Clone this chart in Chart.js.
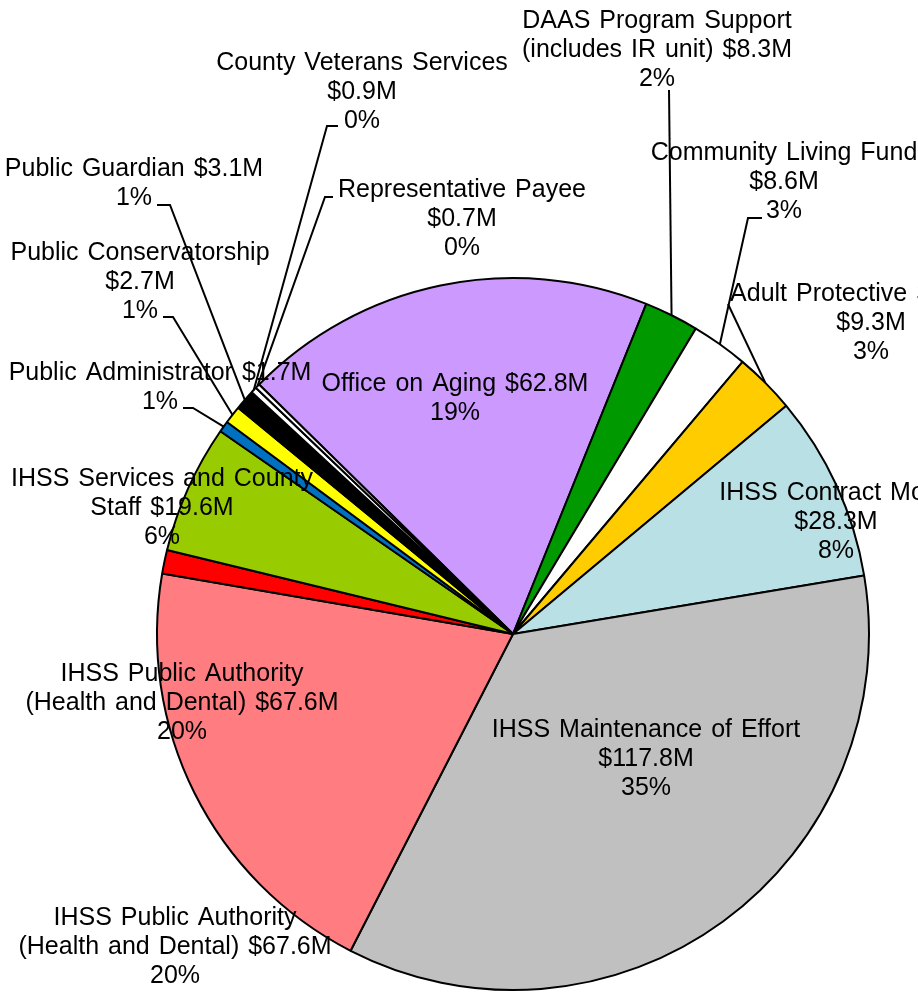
<!DOCTYPE html>
<html>
<head>
<meta charset="utf-8">
<script src="https://cdn.jsdelivr.net/npm/chart.js@4.4.0/dist/chart.umd.min.js"></script>
<style>
  html, body { margin: 0; padding: 0; background: #fff; }
  #wrap { width: 918px; height: 992px; overflow: hidden; }
</style>
</head>
<body>
<div id="wrap"><canvas id="chart" width="918" height="992"></canvas></div>
<script>
// budget by program, $M (clockwise from the Office on Aging slice)
const categories = [
  'Office on Aging',
  'DAAS Program Support (includes IR unit)',
  'Community Living Fund',
  'Adult Protective Services',
  'IHSS Contract Mode',
  'IHSS Maintenance of Effort',
  'IHSS Public Authority (Health and Dental)',
  'IHSS Public Authority (other)',
  'IHSS Services and County Staff',
  'Public Administrator',
  'Public Conservatorship',
  'Public Guardian',
  'County Veterans Services',
  'Representative Payee',
];
const budgetValues = [62.8, 8.3, 8.6, 9.3, 28.3, 117.8, 67.6, 3.6, 19.6, 1.7, 2.7, 3.1, 0.9, 0.7];
const sliceColors = [
  '#CC99FF', '#009900', '#FFFFFF', '#FFCC00', '#B9E0E4', '#C0C0C0', '#FF7C80',
  '#FF0000', '#99CC00', '#0070C0', '#FFFF00', '#000000', '#FFFFFF', '#FFFFFF',
];

// data label text, as printed on the chart
const labelSlice = [12, 13, 11, 10, 9, 8, 0, 1, 2, 3, 4, 5, 6, 7];
const labelText = [
  ['County Veterans Services', '$0.9M', '0%'],
  ['Representative Payee', '$0.7M', '0%'],
  ['Public Guardian $3.1M', '1%'],
  ['Public Conservatorship', '$2.7M', '1%'],
  ['Public Administrator $1.7M', '1%'],
  ['IHSS Services and County', 'Staff $19.6M', '6%'],
  ['Office on Aging $62.8M', '19%'],
  ['DAAS Program Support', '(includes IR unit) $8.3M', '2%'],
  ['Community Living Fund', '$8.6M', '3%'],
  ['Adult Protective Services', '$9.3M', '3%'],
  ['IHSS Contract Mode', '$28.3M', '8%'],
  ['IHSS Maintenance of Effort', '$117.8M', '35%'],
  ['IHSS Public Authority', '(Health and Dental) $67.6M', '20%'],
  ['IHSS Public Authority', '(Health and Dental) $67.6M', '20%'],
];

// label placement: centre x, cap-centre y of first line, leader start points
const labelLayout = [
  { x: 362, y: 61,  leader: [[338, 126], [327, 126]] },
  { x: 462, y: 188, leader: [[333, 197], [325, 197]] },
  { x: 134, y: 167, leader: [[157, 205], [170, 205]] },
  { x: 140, y: 251, leader: [[163, 317], [173, 317]] },
  { x: 160, y: 371, leader: [[183, 408], [193, 408]] },
  { x: 162, y: 477 },
  { x: 455, y: 382 },
  { x: 657, y: 19,  leader: [[669, 90]] },
  { x: 784, y: 151, leader: [[762, 218], [748, 218]] },
  { x: 871, y: 292, leader: [[728, 304]] },
  { x: 836, y: 491 },
  { x: 646, y: 728 },
  { x: 182, y: 672 },
  { x: 175, y: 916 },
];

const FONT_SIZE = 25;
const LINE_STEP = 28.8;

const sliceLabels = {
  id: 'sliceLabels',
  afterDatasetsDraw(chart) {
    const ctx = chart.ctx;
    const arcs = chart.getDatasetMeta(0).data;
    ctx.save();
    ctx.font = FONT_SIZE + 'px "Liberation Sans", Arial, sans-serif';
    ctx.fillStyle = '#000';
    ctx.textAlign = 'center';
    ctx.textBaseline = 'alphabetic';
    if ('wordSpacing' in ctx) ctx.wordSpacing = '2px';
    labelLayout.forEach((lab, i) => {
      labelText[i].forEach((line, k) => {
        ctx.fillText(line, lab.x, lab.y + k * LINE_STEP + FONT_SIZE * 0.358);
      });
    });

    ctx.strokeStyle = '#000';
    ctx.lineWidth = 2;
    labelLayout.forEach((lab, i) => {
      if (!lab.leader) return;
      const arc = arcs[labelSlice[i]];
      const mid = (arc.startAngle + arc.endAngle) / 2;
      const ex = arc.x + Math.cos(mid) * arc.outerRadius;
      const ey = arc.y + Math.sin(mid) * arc.outerRadius;
      ctx.beginPath();
      ctx.moveTo(lab.leader[0][0], lab.leader[0][1]);
      lab.leader.slice(1).forEach(p => ctx.lineTo(p[0], p[1]));
      ctx.lineTo(ex, ey);
      ctx.stroke();
    });
    ctx.restore();
  },
};

new Chart(document.getElementById('chart'), {
  type: 'pie',
  data: {
    labels: categories,
    datasets: [{
      data: budgetValues,
      backgroundColor: sliceColors,
      borderColor: '#000',
      borderWidth: 2,
    }],
  },
  options: {
    responsive: false,
    animation: false,
    rotation: -45.5,
    layout: { padding: { left: 156, right: 48, top: 277, bottom: 1 } },
    plugins: {
      legend: { display: false },
      tooltip: { enabled: false },
    },
  },
  plugins: [sliceLabels],
});
</script>
</body>
</html>
